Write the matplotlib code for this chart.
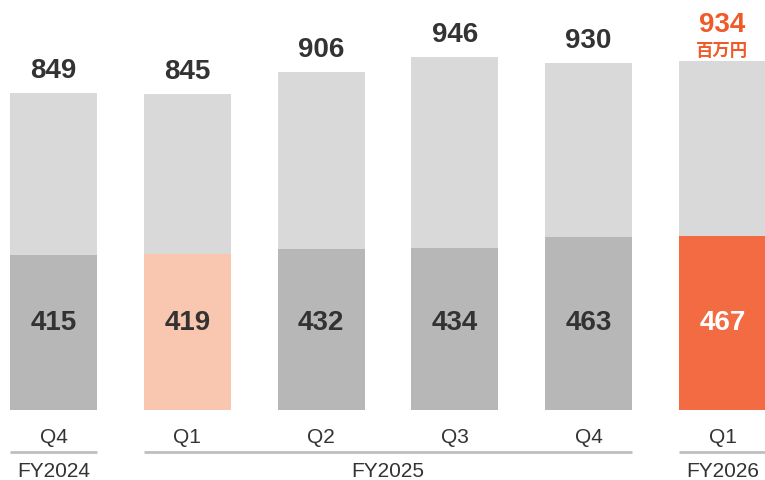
import matplotlib
matplotlib.use("Agg")
import matplotlib.pyplot as plt
import numpy as np

plt.rcParams["font.family"] = ["Liberation Sans", "Noto Sans CJK JP", "DejaVu Sans"]

quarters = ["Q4", "Q1", "Q2", "Q3", "Q4", "Q1"]
totals = [849, 845, 906, 946, 930, 934]
lower = [415, 419, 432, 434, 463, 467]
fiscal_years = ["FY2024", "FY2025", "FY2026"]
fy_spans = [(0, 0), (1, 4), (5, 5)]
unit_label = "百万円"

LIGHT = "#D9D9D9"
DARK = "#B7B7B7"
PALE_ORANGE = "#F9C6B0"
ORANGE = "#F26B43"
TEXT = "#333333"
ORANGE_TEXT = "#F05A28"

lower_colors = [DARK, PALE_ORANGE, DARK, DARK, DARK, ORANGE]
lower_text = [TEXT, TEXT, TEXT, TEXT, TEXT, "white"]

fig = plt.figure(figsize=(7.65, 4.8), dpi=100)
ax = fig.add_axes([0, 0, 1, 1])
x = np.arange(len(totals))
w = 0.65

ax.bar(x, totals, width=w, color=LIGHT, zorder=1)
ax.bar(x, lower, width=w, color=lower_colors, zorder=2)

for i in range(len(totals)):
    ax.text(x[i], 233, str(lower[i]), ha="center", va="center",
            fontsize=20, fontweight="bold", color=lower_text[i], zorder=3)
    ax.text(x[i], -74, quarters[i], ha="center", va="center",
            fontsize=15, color=TEXT)
    if i == len(totals) - 1:
        ax.text(x[i], totals[i] + 96, str(totals[i]), ha="center", va="center",
                fontsize=20, fontweight="bold", color=ORANGE_TEXT)
        ax.text(x[i], totals[i] + 28, unit_label, ha="center", va="center",
                fontsize=12.5, fontweight="bold", color=ORANGE_TEXT)
    else:
        ax.text(x[i], totals[i] + 59, str(totals[i]), ha="center", va="center",
                fontsize=20, fontweight="bold", color=TEXT)

# fiscal year brackets
for fy, (a, b) in zip(fiscal_years, fy_spans):
    ax.plot([x[a] - w / 2, x[b] + w / 2], [-113, -113], color="#BFBFBF", lw=2,
            solid_capstyle="butt")
    ax.text((x[a] + x[b]) / 2, -166, fy, ha="center", va="center",
            fontsize=15, color=TEXT)

ax.set_xlim(-0.40, 5.318)
ax.set_ylim(-187.5, 1098)
ax.axis("off")

fig.savefig("out.png", dpi=100)
